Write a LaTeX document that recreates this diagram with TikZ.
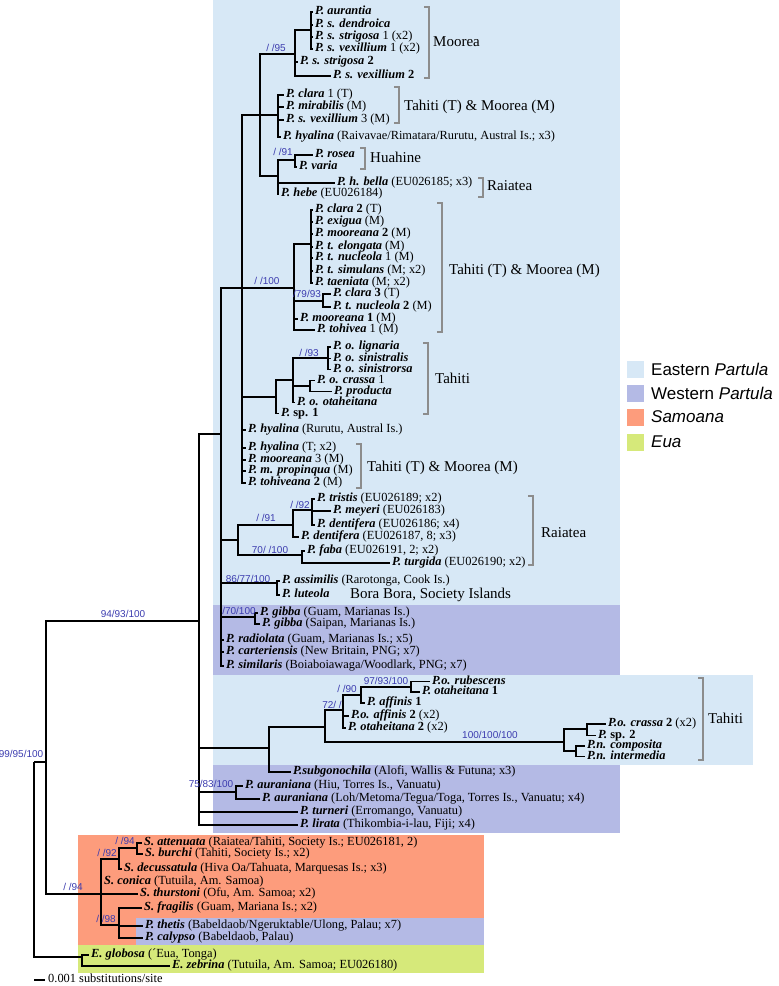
\documentclass[tikz,border=0pt]{standalone}
\usepackage{fontspec}
\setmainfont{Liberation Serif}
\setsansfont{Liberation Sans}
\definecolor{east}{RGB}{215,232,246}
\definecolor{west}{RGB}{180,186,229}
\definecolor{samo}{RGB}{253,156,124}
\definecolor{eua}{RGB}{214,233,122}
\definecolor{supb}{RGB}{60,60,175}
\definecolor{brkgray}{RGB}{140,140,140}
\newcommand{\spn}[1]{\textbf{\textit{#1}}}
\begin{document}
\begin{tikzpicture}[x=1pt,y=-1pt,
 tree/.style={line width=1.7pt},
 taxon/.style={anchor=west,inner xsep=2pt,inner ysep=0pt,text height=7.5pt,text depth=2pt,font=\fontsize{12.4}{13}\selectfont},
 clade/.style={anchor=west,inner sep=0pt,text height=10.5pt,text depth=3pt,font=\fontsize{15}{16}\selectfont},
 supp/.style={inner sep=0pt,text=supb,font=\sffamily\fontsize{10}{10}\selectfont},
 brk/.style={draw=brkgray,line width=1.6pt},
 legbox/.style={minimum size=17pt,inner sep=0pt},
 legtext/.style={anchor=west,inner sep=0pt,font=\sffamily\fontsize{17}{18}\selectfont}]
\useasboundingbox (0,0) rectangle (779,986);
% backgrounds
\fill[east] (213,0) rectangle (620,605);
\fill[west] (213,605) rectangle (620,675);
\fill[east] (213,675) rectangle (753,765);
\fill[west] (213,765) rectangle (620,833);
\fill[samo] (78,835) rectangle (484,945);
\fill[west] (136,918) rectangle (484,945);
\fill[eua] (78,945) rectangle (484,973);
% legend
\node[legbox,fill=east] (lg1) at (635.5,369) {};
\node[legbox,fill=west] (lg2) at (635.5,393) {};
\node[legbox,fill=samo] (lg3) at (635.5,417) {};
\node[legbox,fill=eua] (lg4) at (635.5,442) {};
\node[legtext] (lt1) at (651,369) {Eastern \textit{Partula}};
\node[legtext] (lt2) at (651,393) {Western \textit{Partula}};
\node[legtext] (lt3) at (651,417) {\textit{Samoana}};
\node[legtext] (lt4) at (651,442) {\textit{Eua}};
% internal nodes
\coordinate (L) at (34,762);
\coordinate (K) at (46,762);
\coordinate (J) at (199,621);
\coordinate (G) at (221,434);
\coordinate (B) at (242,288);
\coordinate (A) at (260,115);
\coordinate (moor) at (295,54);
\coordinate (mbar) at (311,30);
\coordinate (C) at (278,115);
\coordinate (D) at (278,176);
\coordinate (hua) at (295,160);
\coordinate (E) at (294,288);
\coordinate (E1) at (311,244);
\coordinate (cl3) at (323,301);
\coordinate (I) at (276,397);
\coordinate (H) at (293,380);
\coordinate (lig) at (328,358);
\coordinate (cra) at (310,386);
\coordinate (R) at (238,540);
\coordinate (Q) at (293,525);
\coordinate (P) at (312,510);
\coordinate (S) at (302,555);
\coordinate (asl) at (277,583);
\coordinate (gib) at (255,617);
\coordinate (X) at (269,748);
\coordinate (V) at (325,727);
\coordinate (U) at (343,710);
\coordinate (T) at (361,695);
\coordinate (rub) at (411,687);
\coordinate (W) at (564,742);
\coordinate (W1) at (587,729);
\coordinate (W2) at (576,751);
\coordinate (Y) at (236,792);
\coordinate (M) at (101,894);
\coordinate (N1) at (119,859);
\coordinate (att) at (137,848);
\coordinate (N) at (119,925);
\coordinate (O) at (82,957);
% taxa
\node[taxon] (n1) at (313,12) {\spn{P. aurantia}};
\node[taxon] (n2) at (313,25) {\spn{P. s. dendroica}};
\node[taxon] (n3) at (313,37) {\spn{P. s. strigosa} 1 (x2)};
\node[taxon] (n4) at (313,49) {\spn{P. s. vexillium} 1 (x2)};
\node[taxon] (n5) at (298,62) {\spn{P. s. strigosa} \textbf{2}};
\node[taxon] (n6) at (331,76) {\spn{P. s. vexillium} \textbf{2}};
\node[taxon] (n7) at (284,95) {\spn{P. clara} 1 (T)};
\node[taxon] (n8) at (284,107) {\spn{P. mirabilis} (M)};
\node[taxon] (n9) at (284,120) {\spn{P. s. vexillium} 3 (M)};
\node[taxon] (n10) at (281,137) {\spn{P. hyalina} (Raivavae/Rimatara/Rurutu, Austral Is.; x3)};
\node[taxon] (n11) at (313,155) {\spn{P. rosea}};
\node[taxon] (n12) at (297,167) {\spn{P. varia}};
\node[taxon] (n13) at (335,183) {\spn{P. h. bella} (EU026185; x3)};
\node[taxon] (n14) at (279,194) {\spn{P. hebe} (EU026184)};
\node[taxon] (n15) at (313,210) {\spn{P. clara} \textbf{2} (T)};
\node[taxon] (n16) at (313,222) {\spn{P. exigua} (M)};
\node[taxon] (n17) at (313,234) {\spn{P. mooreana} \textbf{2} (M)};
\node[taxon] (n18) at (313,247) {\spn{P. t. elongata} (M)};
\node[taxon] (n19) at (313,258) {\spn{P. t. nucleola} 1 (M)};
\node[taxon] (n20) at (313,271) {\spn{P. t. simulans} (M; x2)};
\node[taxon] (n21) at (313,283) {\spn{P. taeniata} (M; x2)};
\node[taxon] (n22) at (331,294) {\spn{P. clara} \textbf{3} (T)};
\node[taxon] (n23) at (331,307) {\spn{P. t. nucleola} \textbf{2} (M)};
\node[taxon] (n24) at (298,319) {\spn{P. mooreana} \textbf{1} (M)};
\node[taxon] (n25) at (315,330) {\spn{P. tohivea} 1 (M)};
\node[taxon] (n26) at (331,347) {\spn{P. o. lignaria}};
\node[taxon] (n27) at (331,358.5) {\spn{P. o. sinistralis}};
\node[taxon] (n28) at (331,369.5) {\spn{P. o. sinistrorsa}};
\node[taxon] (n29) at (315,380.5) {\spn{P. o. crassa} 1};
\node[taxon] (n30) at (332,391.5) {\spn{P. producta}};
\node[taxon] (n31) at (295,402.5) {\spn{P. o. otaheitana}};
\node[taxon] (n32) at (279,413.5) {\spn{P.} \textbf{sp. 1}};
\node[taxon] (n33) at (246,430) {\spn{P. hyalina} (Rurutu, Austral Is.)};
\node[taxon] (n34) at (246,448) {\spn{P. hyalina} (T; x2)};
\node[taxon] (n35) at (246,460) {\spn{P. mooreana} 3 (M)};
\node[taxon] (n36) at (246,471) {\spn{P. m. propinqua} (M)};
\node[taxon] (n37) at (246,483) {\spn{P. tohiveana} \textbf{2} (M)};
\node[taxon] (n38) at (315,499) {\spn{P. tristis} (EU026189; x2)};
\node[taxon] (n39) at (331,511) {\spn{P. meyeri} (EU026183)};
\node[taxon] (n40) at (315,525) {\spn{P. dentifera} (EU026186; x4)};
\node[taxon] (n41) at (299,537) {\spn{P. dentifera} (EU026187, 8; x3)};
\node[taxon] (n42) at (305,551) {\spn{P. faba} (EU026191, 2; x2)};
\node[taxon] (n43) at (390,563) {\spn{P. turgida} (EU026190; x2)};
\node[taxon] (n44) at (280,581) {\spn{P. assimilis} (Rarotonga, Cook Is.)};
\node[taxon] (n45) at (280,595) {\spn{P. luteola}};
\node[taxon] (n46) at (258,613) {\spn{P. gibba} (Guam, Marianas Is.)};
\node[taxon] (n47) at (260,624) {\spn{P. gibba} (Saipan, Marianas Is.)};
\node[taxon] (n48) at (224,640) {\spn{P. radiolata} (Guam, Marianas Is.; x5)};
\node[taxon] (n49) at (224,652) {\spn{P. carteriensis} (New Britain, PNG; x7)};
\node[taxon] (n50) at (224,666) {\spn{P. similaris} (Boiaboiawaga/Woodlark, PNG; x7)};
\node[taxon] (n51) at (430,681.5) {\spn{P.o. rubescens}};
\node[taxon] (n52) at (420,692) {\spn{P. otaheitana} \textbf{1}};
\node[taxon] (n53) at (365,703) {\spn{P. affinis} \textbf{1}};
\node[taxon] (n54) at (349,716) {\spn{P.o. affinis} \textbf{2} (x2)};
\node[taxon] (n55) at (346,728) {\spn{P. otaheitana} \textbf{2} (x2)};
\node[taxon] (n56) at (606,724) {\spn{P.o. crassa} \textbf{2} (x2)};
\node[taxon] (n57) at (596,735.5) {\spn{P.} \textbf{sp. 2}};
\node[taxon] (n58) at (585,746) {\spn{P.n. composita}};
\node[taxon] (n59) at (585,756.5) {\spn{P.n. intermedia}};
\node[taxon] (n60) at (291,772) {\spn{P.subgonochila} (Alofi, Wallis \& Futuna; x3)};
\node[taxon] (n61) at (243,786) {\spn{P. auraniana} (Hiu, Torres Is., Vanuatu)};
\node[taxon] (n62) at (260,799) {\spn{P. auraniana} (Loh/Metoma/Tegua/Toga, Torres Is., Vanuatu; x4)};
\node[taxon] (n63) at (298,812) {\spn{P. turneri} (Erromango, Vanuatu)};
\node[taxon] (n64) at (298,825) {\spn{P. lirata} (Thikombia-i-lau, Fiji; x4)};
\node[taxon] (n65) at (142,843) {\spn{S. attenuata} (Raiatea/Tahiti, Society Is.; EU026181, 2)};
\node[taxon] (n66) at (143,854) {\spn{S. burchi} (Tahiti, Society Is.; x2)};
\node[taxon] (n67) at (122,869) {\spn{S. decussatula} (Hiva Oa/Tahuata, Marquesas Is.; x3)};
\node[taxon] (n68) at (102,882) {\spn{S. conica} (Tutuila, Am. Samoa)};
\node[taxon] (n69) at (138,894) {\spn{S. thurstoni} (Ofu, Am. Samoa; x2)};
\node[taxon] (n70) at (142,908) {\spn{S. fragilis} (Guam, Mariana Is.; x2)};
\node[taxon] (n71) at (143,926) {\spn{P. thetis} (Babeldaob/Ngeruktable/Ulong, Palau; x7)};
\node[taxon] (n72) at (143,938) {\spn{P. calypso} (Babeldaob, Palau)};
\node[taxon] (n73) at (89,955) {\spn{E. globosa} (´Eua, Tonga)};
\node[taxon] (n74) at (170,966) {\spn{E. zebrina} (Tutuila, Am. Samoa; EU026180)};
% branches
\foreach \p/\c in {L/K, L/O, K/J, K/M,
  J/G, J/X, J/Y, J/n63.west, J/n64.west,
  G/B, G/R, G/asl, G/gib, G/n48.west, G/n49.west, G/n50.west,
  B/A, B/E, B/I, B/n33.west, B/n34.west, B/n35.west, B/n36.west, B/n37.west,
  A/moor, A/C, A/D,
  moor/mbar, moor/n5.west, moor/n6.west,
  mbar/n1.west, mbar/n2.west, mbar/n3.west, mbar/n4.west,
  C/n7.west, C/n8.west, C/n9.west, C/n10.west,
  D/hua, D/n13.west, D/n14.west, hua/n11.west, hua/n12.west,
  E/E1, E/cl3, E/n24.west, E/n25.west,
  E1/n15.west, E1/n16.west, E1/n17.west, E1/n18.west, E1/n19.west, E1/n20.west, E1/n21.west,
  cl3/n22.west, cl3/n23.west,
  I/H, I/n32.west, H/lig, H/cra, H/n31.west,
  lig/n26.west, lig/n27.west, lig/n28.west, cra/n29.west, cra/n30.west,
  R/Q, R/S, Q/P, Q/n41.west, P/n38.west, P/n39.west, P/n40.west,
  S/n42.west, S/n43.west, asl/n44.west, asl/n45.west, gib/n46.west, gib/n47.west,
  X/V, X/n60.west, V/U, V/W, U/T, U/n54.west, U/n55.west,
  T/rub, T/n53.west, rub/n51.west, rub/n52.west,
  W/W1, W/W2, W1/n56.west, W1/n57.west, W2/n58.west, W2/n59.west,
  Y/n61.west, Y/n62.west,
  M/N1, M/n68.west, M/n69.west, M/N, N1/att, N1/n67.west,
  att/n65.west, att/n66.west, N/n70.west, N/n71.west, N/n72.west,
  O/n73.west, O/n74.west}
  {\draw[tree] (\p) |- (\c);}
% support values
\node[supp] (s1) at (276,48) {/ /95};
\node[supp] (s2) at (283,152) {/ /91};
\node[supp] (s3) at (267,281) {/ /100};
\node[supp] (s4) at (307,294) {/79/93};
\node[supp] (s5) at (309,353) {/ /93};
\node[supp] (s6) at (300,505) {/ /92};
\node[supp] (s7) at (266,518) {/ /91};
\node[supp] (s8) at (270,550) {70/ /100};
\node[supp] (s9) at (248,579) {86/77/100};
\node[supp] (s10) at (239,611) {/70/100};
\node[supp] (s11) at (386,681) {97/93/100};
\node[supp] (s12) at (347,689) {/ /90};
\node[supp] (s13) at (332,705) {72/ /};
\node[supp] (s14) at (490,735) {100/100/100};
\node[supp] (s15) at (123,614) {94/93/100};
\node[supp] (s16) at (21,754) {99/95/100};
\node[supp] (s17) at (211,784) {75/83/100};
\node[supp] (s18) at (125,841) {/ /94};
\node[supp] (s19) at (107,853) {/ /92};
\node[supp] (s20) at (73,887) {/ /94};
\node[supp] (s21) at (106,919) {/ /98};
% clade brackets and labels
\draw[brk] (424,7) -- (429,7) -- (429,78) -- (424,78);
\node[clade] (c1) at (433,43) {Moorea};
\draw[brk] (394,87) -- (399,87) -- (399,123) -- (394,123);
\node[clade] (c2) at (404,107) {Tahiti (T) \& Moorea (M)};
\draw[brk] (360,148) -- (365,148) -- (365,169) -- (360,169);
\node[clade] (c3) at (370,159) {Huahine};
\draw[brk] (478,178) -- (483,178) -- (483,197) -- (478,197);
\node[clade] (c4) at (487,187) {Raiatea};
\draw[brk] (437,203) -- (442,203) -- (442,332) -- (437,332);
\node[clade] (c5) at (449,271) {Tahiti (T) \& Moorea (M)};
\draw[brk] (423,343) -- (428,343) -- (428,414) -- (423,414);
\node[clade] (c6) at (435,380) {Tahiti};
\draw[brk] (356,444) -- (361,444) -- (361,488) -- (356,488);
\node[clade] (c7) at (367,468) {Tahiti (T) \& Moorea (M)};
\draw[brk] (528,496) -- (533,496) -- (533,565) -- (528,565);
\node[clade] (c8) at (541,534) {Raiatea};
\draw[brk] (698,678) -- (703,678) -- (703,760) -- (698,760);
\node[clade] (c9) at (708,720) {Tahiti};
\node[clade] (c10) at (350,595) {Bora Bora, Society Islands};
% scale bar
\coordinate (sb1) at (34,980);
\coordinate (sb2) at (45,980);
\draw[tree] (sb1) -- (sb2);
\node[taxon] (sbt) at (46,980) {0.001 substitutions/site};
\end{tikzpicture}
\end{document}
